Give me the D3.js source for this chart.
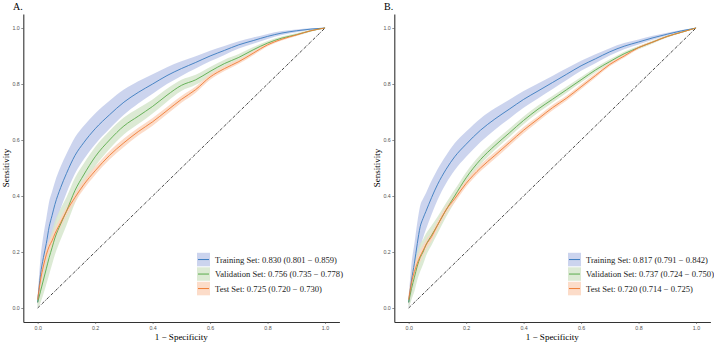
<!DOCTYPE html>
<html>
<head>
<meta charset="utf-8">
<script src="https://cdn.jsdelivr.net/npm/d3@7"></script>
<style>
  body { margin: 0; background: #fff; }
  svg { display: block; }
</style>
</head>
<body>
<div id="chart"></div>
<script>
// Gemeinsames FPR-Raster (1 - Specificity)
const fpr = [0, 0.01, 0.02, 0.03, 0.04, 0.05, 0.06, 0.08, 0.10, 0.13, 0.16, 0.20, 0.25, 0.30,
  0.35, 0.40, 0.45, 0.50, 0.55, 0.60, 0.65, 0.70, 0.75, 0.80, 0.85, 0.90, 0.95, 1.0];

// Panel A
const trainA = [0.02, 0.12, 0.18, 0.23, 0.29, 0.33, 0.37, 0.43, 0.48, 0.545, 0.59, 0.64, 0.69, 0.735,
  0.77, 0.80, 0.83, 0.855, 0.877, 0.90, 0.92, 0.94, 0.955, 0.97, 0.982, 0.99, 0.996, 1.0];
const trainA_hw = [0.02, 0.06, 0.08, 0.09, 0.09, 0.085, 0.08, 0.075, 0.07, 0.065, 0.06, 0.055, 0.05, 0.045,
  0.04, 0.035, 0.03, 0.026, 0.022, 0.019, 0.016, 0.013, 0.011, 0.009, 0.007, 0.005, 0.003, 0];
const validA = [0.02, 0.06, 0.10, 0.14, 0.18, 0.215, 0.25, 0.30, 0.345, 0.42, 0.475, 0.54, 0.60, 0.65,
  0.685, 0.72, 0.76, 0.795, 0.815, 0.845, 0.873, 0.895, 0.922, 0.946, 0.964, 0.976, 0.99, 1.0];
const validA_hw = [0.02, 0.04, 0.05, 0.055, 0.06, 0.06, 0.06, 0.055, 0.05, 0.045, 0.04, 0.035, 0.032, 0.03,
  0.028, 0.025, 0.023, 0.02, 0.018, 0.016, 0.014, 0.012, 0.01, 0.008, 0.006, 0.005, 0.003, 0];
const testA = [0.03, 0.10, 0.15, 0.19, 0.22, 0.24, 0.265, 0.305, 0.345, 0.395, 0.44, 0.49, 0.545, 0.59,
  0.63, 0.665, 0.705, 0.745, 0.78, 0.825, 0.855, 0.88, 0.91, 0.94, 0.96, 0.975, 0.99, 1.0];
const testA_hw = [0.02, 0.03, 0.03, 0.025, 0.022, 0.02, 0.02, 0.018, 0.017, 0.016, 0.016, 0.015, 0.015, 0.015,
  0.014, 0.014, 0.013, 0.012, 0.011, 0.01, 0.009, 0.008, 0.007, 0.006, 0.005, 0.004, 0.002, 0];

// Panel B
const trainB = [0.02, 0.10, 0.16, 0.23, 0.29, 0.32, 0.345, 0.395, 0.44, 0.495, 0.54, 0.585, 0.635, 0.675,
  0.71, 0.745, 0.775, 0.805, 0.835, 0.865, 0.89, 0.915, 0.935, 0.95, 0.965, 0.978, 0.99, 1.0];
const trainB_hw = [0.02, 0.06, 0.07, 0.075, 0.075, 0.07, 0.065, 0.06, 0.055, 0.05, 0.048, 0.045, 0.042, 0.038,
  0.034, 0.03, 0.027, 0.024, 0.021, 0.018, 0.016, 0.013, 0.011, 0.009, 0.007, 0.005, 0.003, 0];
const validB = [0.02, 0.07, 0.11, 0.15, 0.18, 0.20, 0.225, 0.26, 0.295, 0.35, 0.40, 0.465, 0.53, 0.58,
  0.625, 0.67, 0.71, 0.745, 0.78, 0.815, 0.85, 0.88, 0.908, 0.93, 0.95, 0.97, 0.985, 1.0];
const validB_hw = [0.02, 0.04, 0.05, 0.05, 0.05, 0.045, 0.04, 0.035, 0.03, 0.025, 0.022, 0.02, 0.018, 0.016,
  0.015, 0.014, 0.013, 0.012, 0.011, 0.01, 0.009, 0.008, 0.007, 0.006, 0.005, 0.004, 0.002, 0];
const testB = [0.03, 0.09, 0.13, 0.16, 0.185, 0.205, 0.225, 0.255, 0.295, 0.35, 0.39, 0.445, 0.50, 0.545,
  0.59, 0.635, 0.675, 0.715, 0.75, 0.79, 0.83, 0.87, 0.90, 0.93, 0.95, 0.97, 0.985, 1.0];
const testB_hw = [0.02, 0.03, 0.028, 0.025, 0.022, 0.02, 0.018, 0.016, 0.015, 0.014, 0.013, 0.012, 0.012, 0.012,
  0.011, 0.011, 0.01, 0.01, 0.009, 0.009, 0.008, 0.007, 0.006, 0.005, 0.004, 0.003, 0.002, 0];

const panelTitles = ["A.", "B."];
const legendA = ["Training Set: 0.830 (0.801 \u2212 0.859)", "Validation Set: 0.756 (0.735 \u2212 0.778)", "Test Set: 0.725 (0.720 \u2212 0.730)"];
const legendB = ["Training Set: 0.817 (0.791 \u2212 0.842)", "Validation Set: 0.737 (0.724 \u2212 0.750)", "Test Set: 0.720 (0.714 \u2212 0.725)"];
const xTicks = [0, 0.2, 0.4, 0.6, 0.8, 1.0];
const yTicks = [0, 0.2, 0.4, 0.6, 0.8, 1.0];

// Farben: Linie und Band
const lineColors = ["#3a7cc0", "#5aab4c", "#f07d35"];
const bandColors = ["#c3cdeb", "#d6e6cd", "#fbd6c0"];

const panels = [
  { title: panelTitles[0], legend: legendA, series: [[trainA, trainA_hw], [validA, validA_hw], [testA, testA_hw]], dx: 0 },
  { title: panelTitles[1], legend: legendB, series: [[trainB, trainB_hw], [validB, validB_hw], [testB, testB_hw]], dx: 371 }
];

const W = 714, H = 342;
const plot = { left: 23.3, top: 14, width: 316.1, height: 308 };

const svg = d3.select("#chart").append("svg")
  .attr("width", W)
  .attr("height", H);

const x = d3.scaleLinear().domain([-0.05, 1.05]).range([plot.left, plot.left + plot.width]);
const y = d3.scaleLinear().domain([-0.05, 1.05]).range([plot.top + plot.height, plot.top]);

const serif = "'Liberation Serif', 'Times New Roman', serif";
const sans = "'Liberation Sans', Arial, sans-serif";

panels.forEach(p => {
  const g = svg.append("g").attr("transform", `translate(${p.dx},0)`);

  // Konfidenzbänder
  p.series.forEach((s, i) => {
    const pts = fpr.map((f, k) => ({ f, t: s[0][k], hw: s[1][k] }));
    g.append("path")
      .datum(pts)
      .attr("fill", bandColors[i])
      .attr("fill-opacity", 0.85)
      .attr("d", d3.area()
        .curve(d3.curveMonotoneX)
        .x(d => x(d.f))
        .y0(d => y(Math.max(0, d.t - d.hw)))
        .y1(d => y(Math.min(1, d.t + d.hw))));
  });

  // Diagonale
  g.append("line")
    .attr("x1", x(0)).attr("y1", y(0))
    .attr("x2", x(1)).attr("y2", y(1))
    .attr("stroke", "#111")
    .attr("stroke-width", 0.8)
    .attr("stroke-dasharray", "3,1.2,0.8,1.2");

  // ROC-Kurven
  p.series.forEach((s, i) => {
    const pts = fpr.map((f, k) => ({ f, t: s[0][k] }));
    g.append("path")
      .datum(pts)
      .attr("fill", "none")
      .attr("stroke", lineColors[i])
      .attr("stroke-width", 0.9)
      .attr("d", d3.line().curve(d3.curveMonotoneX).x(d => x(d.f)).y(d => y(d.t)));
  });

  // Achsen
  const xAxis = g.append("g")
    .attr("transform", `translate(0,${plot.top + plot.height})`)
    .call(d3.axisBottom(x).tickValues(xTicks).tickFormat(d3.format(".1f")).tickSize(2).tickSizeOuter(0));
  const yAxis = g.append("g")
    .attr("transform", `translate(${plot.left},0)`)
    .call(d3.axisLeft(y).tickValues(yTicks).tickFormat(d3.format(".1f")).tickSize(2).tickSizeOuter(0));
  [xAxis, yAxis].forEach(a => {
    a.select(".domain").attr("stroke", "#333").attr("stroke-width", 1.1);
    a.selectAll(".tick line").attr("stroke", "#444").attr("stroke-width", 0.6);
    a.selectAll(".tick text").attr("fill", "#555").style("font-family", sans).style("font-size", "5.3px");
  });
  xAxis.selectAll(".tick text").attr("dy", "0.9em").attr("y", 3);
  yAxis.selectAll(".tick text").attr("x", -3.5);

  // Achsentitel
  g.append("text")
    .attr("x", plot.left + plot.width / 2)
    .attr("y", 339.5)
    .attr("text-anchor", "middle")
    .style("font-family", serif)
    .style("font-size", "9px")
    .text("1 \u2212 Specificity");
  g.append("text")
    .attr("transform", `translate(8.6,${plot.top + plot.height / 2}) rotate(-90)`)
    .attr("text-anchor", "middle")
    .style("font-family", serif)
    .style("font-size", "9px")
    .text("Sensitivity");

  // Paneltitel
  g.append("text")
    .attr("x", 13)
    .attr("y", 10)
    .style("font-family", serif)
    .style("font-size", "10px")
    .text(p.title);

  // Legende
  const lx = plot.left + 173.7, ly = 252.3, rowH = 14.5;
  p.legend.forEach((label, i) => {
    const ry = ly + i * rowH;
    g.append("rect")
      .attr("x", lx).attr("y", ry + 0.5)
      .attr("width", 13).attr("height", rowH - 1)
      .attr("fill", bandColors[i]).attr("fill-opacity", 0.85);
    g.append("line")
      .attr("x1", lx + 1).attr("x2", lx + 12)
      .attr("y1", ry + rowH / 2).attr("y2", ry + rowH / 2)
      .attr("stroke", lineColors[i]).attr("stroke-width", 1);
    g.append("text")
      .attr("x", lx + 18)
      .attr("y", ry + rowH / 2)
      .attr("dy", "0.35em")
      .attr("fill", "#222")
      .style("font-family", serif)
      .style("font-size", "8.6px")
      .text(label);
  });
});
</script>
</body>
</html>
